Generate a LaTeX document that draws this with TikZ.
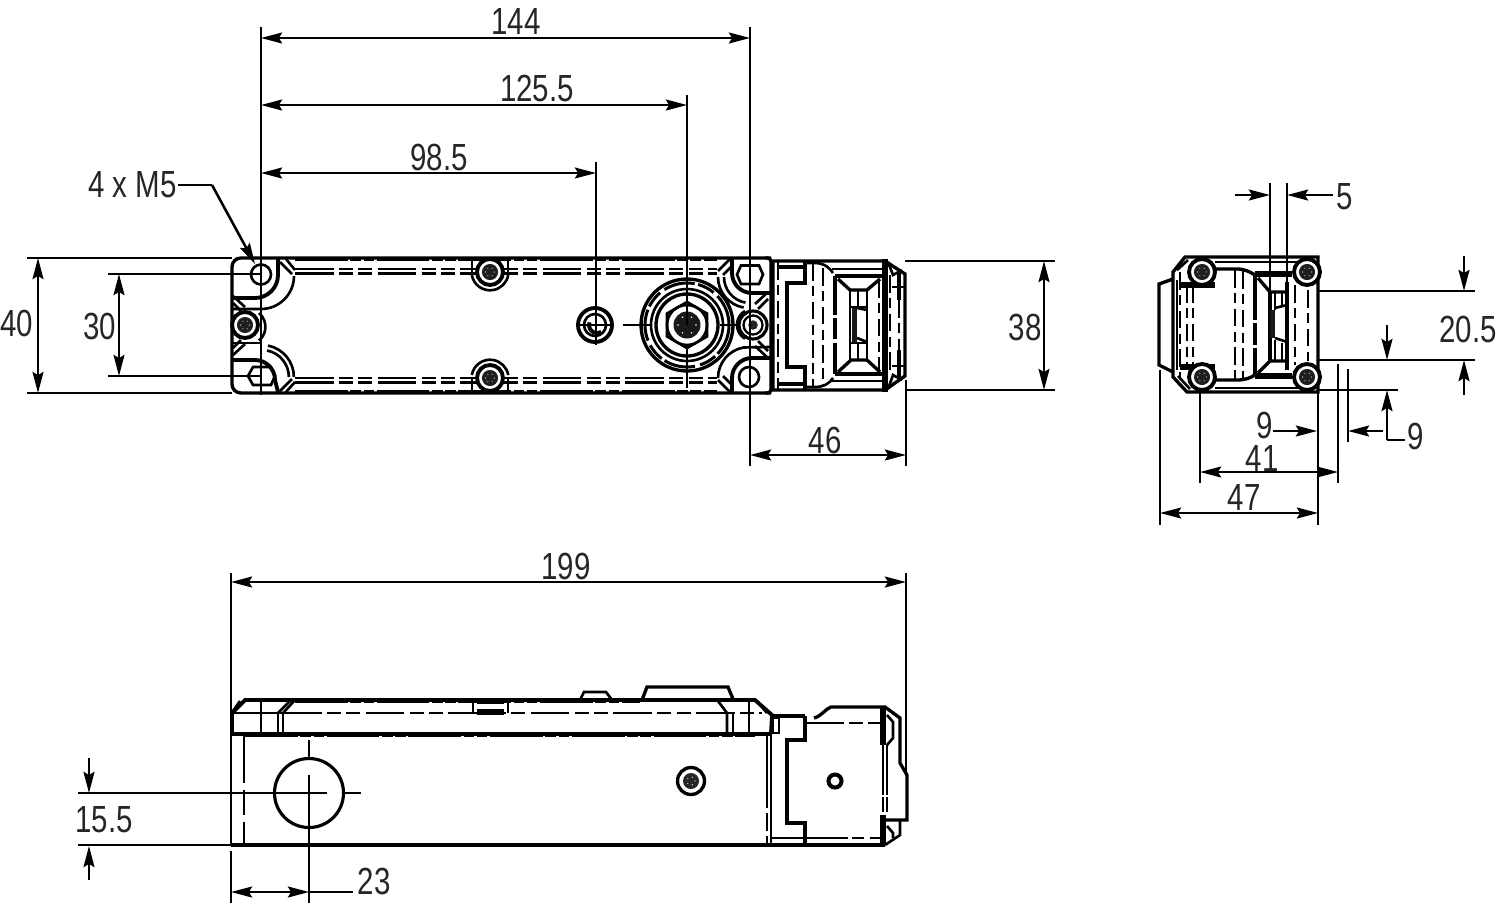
\documentclass[tikz,border=0pt]{standalone}
\usepackage{fontspec}
\setmainfont[FakeStretch=0.78]{Liberation Sans}
\usetikzlibrary{arrows.meta}
\tikzset{
  ol/.style={line width=1.9pt,line join=miter,line cap=butt},
  md/.style={line width=1.5pt,line cap=butt},
  thk/.style={line width=3pt,line cap=butt},
  dl/.style={line width=1.45pt,line cap=butt},
  dsh/.style={line width=1.6pt,dash pattern=on 22pt off 3pt on 8pt off 3pt on 8pt off 3pt},
  dv/.style={line width=1.5pt,dash pattern=on 10pt off 3pt on 6pt off 3pt},
  nick/.style={line width=1.5pt,dash pattern=on 30pt off 1.5pt on 6pt off 1.5pt on 6pt off 1.5pt},
  tip/.style={-{Stealth[length=12pt,width=6.2pt,inset=1.8pt]}},
  tips/.style={{Stealth[length=12pt,width=6.2pt,inset=1.8pt]}-{Stealth[length=12pt,width=6.2pt,inset=1.8pt]}},
  lab/.style={inner sep=0pt,font=\fontsize{21.5pt}{24pt}\selectfont,text=black!85},
}
\newcommand{\scr}[3]{% x y outer radius
  \fill[white] (#1,#2) circle ({#3+1});
  \draw[line width=2.2pt] (#1,#2) circle (#3);
  \fill[black!88] (#1,#2) circle ({#3*0.62});
  \foreach \a in {0,60,...,300}{\fill[white] (#1,#2)++(\a:{#3*0.33}) circle (.55);}
}
\newcommand{\lscr}[3]{%
  \fill[white] (#1,#2) circle ({#3+1});
  \draw[line width=1.8pt] (#1,#2) circle (#3);
  \draw[line width=1.3pt] (#1,#2) circle ({#3*0.68});
  \fill[black!85] (#1,#2) circle ({#3*0.34});
}
\begin{document}
\begin{tikzpicture}[x=0.02cm,y=-0.02cm]
\useasboundingbox (0,0) rectangle (1500,920);
\fill[white] (0,0) rectangle (1500,920);

% ---------- TOP VIEW: main housing
\draw[ol,rounded corners=5pt] (771,258) -- (232,258) -- (232,393) -- (771,393);
\draw[ol,rounded corners=2pt] (765,258) -- (771,258) -- (771,393) -- (765,393);
\draw[nick] (295,259.5) -- (717,259.5);
\draw[nick] (295,391.5) -- (717,391.5);
\draw[dsh] (295,269) -- (717,269);
\draw[dsh] (295,273.5) -- (717,273.5);
\draw[dsh] (295,378) -- (717,378);
\draw[dsh] (295,382.5) -- (717,382.5);
% left end arcs
\draw[ol,line width=2.2pt] (278,258) -- (278,275) arc (0:90:23) -- (233,298);
\draw[md] (294,276) arc (0:90:33) -- (233,309);
\draw[md] (233,343) -- (262,343);
\draw[md] (268,345.6) arc (-79:0:32);
\draw[md] (267,350.5) arc (-79:0:27);
\draw[ol,line width=2.2pt] (233,360) -- (255,360) arc (-90:0:20) -- (278,392);
\draw[md] (280,262) -- (292,274); \draw[md] (286,259) -- (295,270);
\draw[md] (280,391) -- (292,379); \draw[md] (286,392) -- (295,382);
\draw[md] (233,296) -- (245,307); \draw[md] (233,303) -- (241,311);
\draw[md] (233,355) -- (245,344); \draw[md] (233,348) -- (241,340);
% right end arcs
\draw[ol,line width=2.2pt] (732,258) -- (732,273) arc (180:90:20) -- (752,293) -- (771,293);
\draw[md] (718,277) arc (180:100:31);
\draw[md] (724,277) arc (180:100:26);
\draw[md] (718,378) arc (180:260:31) -- (770,347);
\draw[ol,line width=2.2pt] (732,392) -- (732,378) arc (180:270:20) -- (771,358);
\draw[md] (718,271) -- (730,259); \draw[md] (723,275) -- (732,266);
\draw[md] (718,380) -- (730,392); \draw[md] (723,376) -- (732,385);
\draw[md] (755,304) -- (768,292); \draw[md] (758,309) -- (768,299);
\draw[md] (755,346) -- (768,358); \draw[md] (758,341) -- (768,351);
% mid-side screws
\draw[md] (472,258) -- (472,273); \draw[md] (508,258) -- (508,273);
\draw[md] (472,378) -- (472,392); \draw[md] (508,378) -- (508,392);
\scr{490}{272}{13}
\scr{490}{378}{13}
\draw[md] (471.8,275) arc (170:10:18.5);
\draw[md] (471.8,375) arc (190:350:18.5);
\draw[md] (259,313) arc (-50:50:18);
\scr{245}{325}{13}
\lscr{753}{325}{14}
\draw[md] (745,311) arc (240:120:16);
% holes
\draw[md] (261,274.5) circle (10);
\draw[md] (248,376) -- (253,367) -- (271,367) -- (275,376) -- (271,385) -- (253,385) -- cycle;
\draw[md] (737,274.5) -- (741,265.5) -- (759,265.5) -- (763,274.5) -- (759,284) -- (741,284) -- cycle;
\draw[md] (749,377) circle (10);
% big connector
\draw[ol] (687,325) circle (46);
\draw[line width=1.7pt,dash pattern=on 18pt off 2pt on 10pt off 3pt] (687,325) circle (42);
\draw[md] (687,325) circle (36);
\draw[ol] (687,325) circle (31);
\draw[md] (687,302) -- (707,313.5) -- (707,336.5) -- (687,348) -- (667,336.5) -- (667,313.5) -- cycle;
\draw[md] (687,325) circle (20);
\fill[black!90] (687,325) circle (13.5);
\foreach \a in {0,60,...,300}{\fill[white] (687,325)++(\a:9) circle (.8);}
\draw[dl] (623,325) -- (652,325);
\draw[dl] (720,325) -- (740,325);
\draw[dl] (687,348) -- (687,388);
% small port
\draw[ol,line width=2.2pt] (595,325) circle (17);
\draw[md] (595,325) circle (11);
\draw[dl] (579,325) -- (612,325);
\draw[ol,line width=2.2pt] (601,332) arc (60:200:8);

% ---------- TOP VIEW: head
\draw[ol] (773,261) -- (885,261) -- (905,274) -- (905,376) -- (885,390) -- (773,390) -- cycle;
\draw[ol] (778,267) -- (805,267);
\draw[ol] (778,384) -- (805,384);
\draw[dv] (778,262) -- (778,390);
\draw[ol] (805,261) -- (805,283) -- (787,283) -- (787,367) -- (805,367) -- (805,390);
\draw[md] (805,263) -- (815,263) .. controls (824,263) and (830,268) .. (833,273);
\draw[md] (805,387) -- (815,387) .. controls (824,387) and (830,383) .. (833,378);
\draw[dv] (813,263) -- (813,388);
\draw[dv] (823,268) -- (823,384);
\draw[line width=2.4pt] (835,276) -- (883,276);
\draw[line width=2.4pt] (835,374) -- (883,374);
\draw[line width=2pt,dash pattern=on 22pt off 2pt on 12pt off 2pt] (835,276) -- (835,374);
\draw[md] (832,269) -- (885,269);
\draw[md] (832,381) -- (885,381);
\draw[ol] (838,279) -- (850,290) -- (867,290) -- (880,279);
\draw[ol] (838,372) -- (851,360) -- (867,360) -- (880,372);
\draw[md] (850,290) -- (850,360); \draw[md] (867,290) -- (867,360);
\draw[md] (850,307) -- (867,307);
\draw[md] (850,343) -- (867,343);
\draw[md] (858,290) -- (858,307) (858,343) -- (858,360);
\fill[black!90] (852,308) rectangle (857,343);
\draw[md] (857,308) -- (867,310) (857,338) -- (867,342);
\draw[thk] (885,259) -- (885,392);
\draw[dv] (879,280) -- (879,372);
\draw[dv] (890,275) -- (890,374);
\draw[md] (888,262) -- (893,275) -- (902,270);
\draw[md] (888,389) -- (893,375) -- (902,380);
\draw[thk,line width=2.4pt] (899,272) -- (899,300);
\draw[thk,line width=2.4pt] (899,350) -- (899,378);
\draw[dv] (899,300) -- (899,350);
\draw[md] (892,287) -- (905,287) (892,366) -- (905,366);

% ---------- SIDE VIEW
\draw[ol] (1185,257) -- (1318,257) -- (1318,392) -- (1187,392) -- (1173,377) -- (1173,272) -- cycle;
\draw[ol] (1173,279) -- (1159,284) -- (1159,365) -- (1173,372);
\draw[md] (1188,260) -- (1177,270);
\draw[md] (1190,389) -- (1178,376);
\draw[md] (1177,280) -- (1177,370);
\draw[dv] (1180,272) -- (1180,378);
\draw[md] (1215,262) -- (1318,262);
\draw[md] (1215,388) -- (1318,388);
\draw[thk] (1180,285) -- (1215,285);
\draw[thk] (1180,367) -- (1215,367);
\draw[dv] (1187,285) -- (1187,367);
\draw[dv] (1193,285) -- (1193,367);
\draw[ol] (1215,269) -- (1237,269) .. controls (1245,269) and (1250,272) .. (1255,275);
\draw[ol] (1215,380) -- (1237,380) .. controls (1245,380) and (1250,378) .. (1255,375);
\draw[line width=3pt] (1255,274) -- (1292,274);
\draw[line width=3pt] (1255,376) -- (1292,376);
\draw[dv] (1235,270) -- (1235,379);
\draw[dv] (1243,271) -- (1243,379);
\draw[line width=2.2pt,dash pattern=on 25pt off 2pt on 12pt off 2pt] (1255,276) -- (1255,374);
\draw[ol] (1258,278) -- (1270,292) -- (1288,292);
\draw[ol] (1258,373) -- (1270,361) -- (1288,361);
\draw[ol] (1270,292) -- (1270,361); \draw[ol] (1287,282) -- (1287,370);
\draw[md] (1275,292) -- (1275,310) (1282,292) -- (1282,306);
\draw[md] (1275,340) -- (1275,361) (1282,343) -- (1282,361);
\fill[black!90] (1270,310) rectangle (1275,338);
\draw[md] (1275,308) -- (1287,305) (1275,338) -- (1287,342);
\draw[dv] (1295,285) -- (1295,365);
\draw[dv] (1308,290) -- (1308,361);
\scr{1202}{272}{13}
\scr{1307}{272}{13}
\scr{1202}{377}{13}
\scr{1307}{377}{13}

% ---------- BOTTOM VIEW
\draw[ol,line width=2.2pt] (232,734) -- (232,713) -- (245,700) -- (755,700) -- (772,715) -- (771,734);
\draw[nick] (295,701.5) -- (640,701.5);
\draw[line width=2pt] (232,734) -- (771,734);
\draw[nick] (245,735.5) -- (755,735.5);
\draw[dsh] (283,713) -- (762,713);
\draw[md] (232,713) -- (283,713);
\draw[md] (240,701) -- (233,711); \draw[md] (261,700) -- (261,734);
\draw[md] (278,713) -- (278,734); \draw[md] (283,713) -- (283,734);
\draw[md] (278,713) -- (290,701); \draw[md] (283,713) -- (294,701);
\draw[md] (473,703) -- (473,713); \draw[md] (508,703) -- (508,713);
\draw[thk] (477,712) -- (504,712);
\draw[md] (477,703) -- (504,703);
\draw[md] (580,700) -- (584,692) -- (606,692) -- (612,700);
\draw[ol] (642,700) -- (647,687) -- (728,687) -- (733,699);
\draw[md] (718,701) -- (727,713) -- (727,733);
\draw[md] (733,712) -- (733,733);
\draw[md] (749,700) -- (749,733);
\draw[md] (757,701) -- (767,713);
\draw[dl] (231,573) -- (231,845);
\draw[line width=1.6pt,dash pattern=on 28pt off 4pt on 14pt off 4pt] (244,734) -- (244,845);
\draw[ol] (231,845) -- (885,845);
\draw[line width=1.6pt,dash pattern=on 42pt off 3pt on 10pt off 3pt on 10pt off 3pt] (767,734) -- (767,845);
\draw[md] (771,734) -- (771,845);
\draw[ol] (772,716) -- (805,716);
\draw[md] (773,718) rectangle (779,733);
\draw[md] (771,838) -- (805,838);
\draw[ol] (805,716) -- (805,740) -- (787,740) -- (787,823) -- (805,823) -- (805,845);
\draw[dsh] (805,723) -- (881,723);
\draw[md] (805,838) -- (848,838);
\draw[line width=1.4pt,dash pattern=on 7pt off 3pt] (852,838) -- (885,838);
\draw[ol] (814,718) .. controls (822,716) and (825,709) .. (831,707) -- (885,707) -- (900,718) -- (900,763) -- (907,775) -- (907,820) -- (884,820);
\draw[md] (900,820) -- (900,835) -- (885,845);
\draw[thk] (883,707) -- (883,745);
\draw[thk] (883,815) -- (883,845);
\draw[line width=1.6pt] (887,745) -- (887,795) (883,745) -- (883,795);
\draw[line width=1.6pt] (887,797) -- (887,812) (883,797) -- (883,812);
\draw[md] (887,715) -- (893,722) -- (893,738) -- (887,745);
\draw[md] (887,826) -- (893,833) -- (893,838);
\draw[ol] (691,781) circle (13.5);
\fill[black!85] (691,781) circle (8);
\foreach \a in {0,72,...,288}{\fill[white] (691,781)++(\a:4) circle (.6);}
\draw[line width=2.3pt] (835,781) circle (6.5);
\draw[line width=1.8pt] (309,793) circle (34.5);

% ---------- DIMENSIONS
\draw[dl] (261,27) -- (261,395);
\draw[dl] (750,27) -- (750,466);
\draw[dl] (687,95) -- (687,325);
\draw[dl] (596,162) -- (596,345);
\draw[dl,tips] (261,38) -- (750,38);
\draw[dl,tips] (261,105) -- (687,105);
\draw[dl,tips] (261,173) -- (596,173);
\node[lab] (d144) at (516,22) {144};
\node[lab] (d125) at (537,88) {125.5};
\node[lab] (d98) at (439,157) {98.5};
\node[lab,anchor=east] (dm5) at (177,185) {4 x M5};
\coordinate (m5h) at (212,185);
\coordinate (m5t) at (255,264);
\draw[dl] (dm5.east) ++(1,0) -- (m5h);
\draw[dl,tip] (m5h) -- (m5t);
\draw[dl] (27,258) -- (232,258);
\draw[dl] (27,393) -- (232,393);
\draw[dl,tips] (38,258) -- (38,393);
\node[lab] (d40) at (17,323) {40};
\draw[dl] (108,274) -- (262,274);
\draw[dl] (108,376) -- (262,376);
\draw[dl,tips] (119,274) -- (119,376);
\node[lab] (d30) at (100,326) {30};
\draw[dl] (905,261) -- (1055,261);
\draw[dl] (905,390) -- (1055,390);
\draw[dl,tips] (1044,261) -- (1044,390);
\node[lab] (d38) at (1025,327) {38};
\draw[dl] (906,380) -- (906,466);
\draw[dl,tips] (750,455) -- (906,455);
\node[lab] (d46) at (825,440) {46};
% side view
\draw[dl] (1270,183) -- (1270,292);
\draw[dl] (1287,183) -- (1287,292);
\draw[dl,tip] (1235,195) -- (1270,195);
\draw[dl,tip] (1333,195) -- (1287,195);
\node[lab] (d5) at (1345,197) {5};
\draw[dl] (1318,291) -- (1475,291);
\draw[dl] (1318,360) -- (1475,360);
\draw[dl,tip] (1464,256) -- (1464,291);
\draw[dl,tip] (1464,395) -- (1464,360);
\draw[dl,tip] (1387,325) -- (1387,360);
\node[lab] (d205) at (1468,329) {20.5};
\draw[dl] (1318,390) -- (1398,390);
\draw[dl,tip] (1387,440) -- (1387,390);
\draw[dl] (1387,440) -- (1405,440);
\draw[dl,tip] (1383,431) -- (1348,431);
\draw[dl] (1348,369) -- (1348,442);
\draw[dl] (1338,364) -- (1338,483);
\draw[dl] (1318,392) -- (1318,525);
\draw[dl] (1200,392) -- (1200,483);
\draw[dl] (1160,370) -- (1160,525);
\draw[dl,tip] (1273,431) -- (1317,431);
\draw[dl,tips] (1200,472) -- (1338,472);
\draw[dl,tips] (1160,513) -- (1318,513);
\node[lab] (d9a) at (1265,425) {9};
\node[lab] (d41) at (1262,458) {41};
\node[lab] (d47) at (1244,497) {47};
\node[lab] (d9b) at (1416,436) {9};
% bottom view
\draw[dl] (906,573) -- (906,772);
\draw[dl,tips] (231,582) -- (906,582);
\node[lab] (d199) at (566,566) {199};
\draw[dl] (78,793) -- (327,793);
\draw[dl] (343,793) -- (361,793);
\draw[dl] (78,845) -- (231,845);
\draw[dl,tip] (89,758) -- (89,793);
\draw[dl,tip] (89,880) -- (89,846);
\node[lab] (d155) at (104,820) {15.5};
\draw[dl] (309,740) -- (309,758);
\draw[dl] (309,775) -- (309,903);
\draw[dl] (231,851) -- (231,903);
\draw[dl,tips] (231,892) -- (309,892);
\draw[dl] (309,892) -- (353,892);
\node[lab] (d23) at (374,881) {23};
\end{tikzpicture}
\end{document}
